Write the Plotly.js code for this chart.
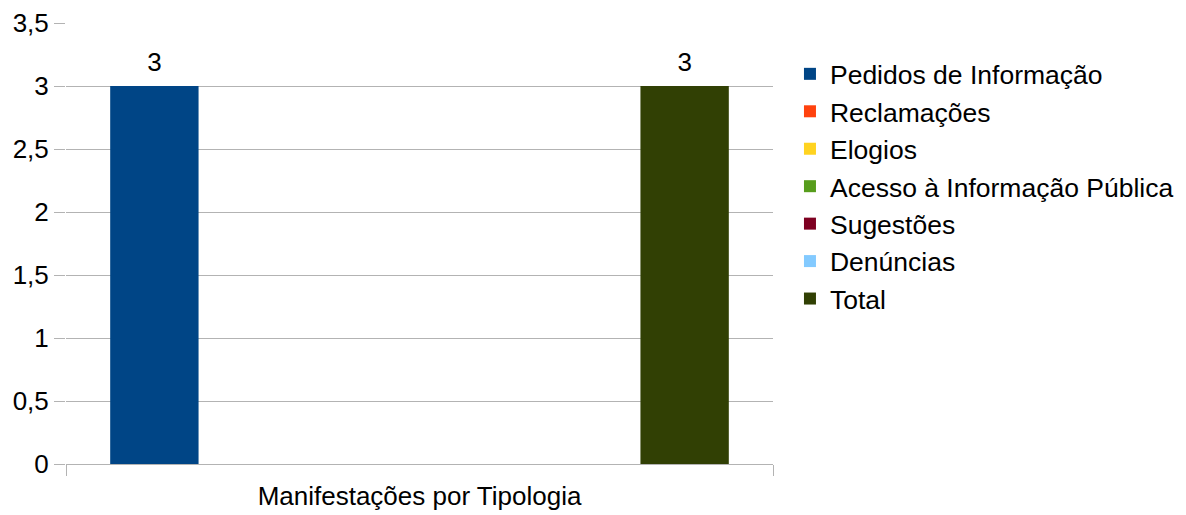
<!DOCTYPE html>
<html>
<head>
<meta charset="utf-8">
<script src="https://cdn.plot.ly/plotly-3.0.1.min.js"></script>
<style>html,body{margin:0;padding:0;background:#fff;}#chart{width:1186px;height:515px;}</style>
</head>
<body>
<div id="chart"></div>
<script>
const category = ["Manifestações por Tipologia"];
const seriesNames = ["Pedidos de Informação","Reclamações","Elogios","Acesso à Informação Pública","Sugestões","Denúncias","Total"];
const seriesValues = [3, 0, 0, 0, 0, 0, 3];
const seriesColors = ["#004586","#ff420e","#ffd320","#579d1c","#7e0021","#83caff","#314004"];
const yTicks = [0, 0.5, 1, 1.5, 2, 2.5, 3, 3.5];

const FONT = 'Liberation Sans, Arial, sans-serif';
const FS = 26;

const bars = seriesNames.map((name, i) => ({
  type: 'bar',
  name: name,
  x: category,
  y: [seriesValues[i]],
  marker: {color: seriesColors[i]},
  hoverinfo: 'skip'
}));

const labels = seriesNames.map((name, i) => ({
  type: 'scatter',
  mode: 'markers+text',
  name: name + ' label',
  showlegend: false,
  x: category,
  y: [seriesValues[i]],
  text: [seriesValues[i] > 0 ? String(seriesValues[i]) : ''],
  textposition: 'top center',
  marker: {size: 12, opacity: 0},
  cliponaxis: false,
  textfont: {family: FONT, size: FS, color: '#000'},
  hoverinfo: 'skip'
}));

const layout = {
  width: 1186, height: 515,
  margin: {l: 66, r: 413, t: 23, b: 51, autoexpand: false},
  paper_bgcolor: '#fff', plot_bgcolor: '#fff',
  font: {family: FONT, size: FS, color: '#000'},
  separators: ',.',
  barmode: 'group',
  bargap: 0.125,
  bargroupgap: 0,
  scattermode: 'group',
  scattergap: 0.125,
  showlegend: true,
  legend: {x: 1.024, xanchor: 'left', y: 0.629, yanchor: 'middle', tracegroupgap: 0,
           font: {size: 26.5, color: '#000'}, bgcolor: 'rgba(0,0,0,0)'},
  xaxis: {type: 'category', tickson: 'boundaries', ticks: 'outside', ticklen: 11,
          tickcolor: '#b3b3b3', showgrid: true, gridcolor: '#b3b3b3', gridwidth: 1,
          showline: false, zeroline: false, fixedrange: true, tickfont: {size: FS},
          ticklabelstandoff: 14},
  yaxis: {range: [0, 3.5], tickvals: yTicks, ticks: 'outside', ticklen: 11,
          tickcolor: '#b3b3b3', gridcolor: '#b3b3b3', gridwidth: 1,
          zeroline: true, zerolinecolor: '#b3b3b3', showline: false,
          tickfont: {size: FS}, fixedrange: true}
};

Plotly.newPlot('chart', bars.concat(labels), layout, {displayModeBar: false, staticPlot: true});
</script>
</body>
</html>
